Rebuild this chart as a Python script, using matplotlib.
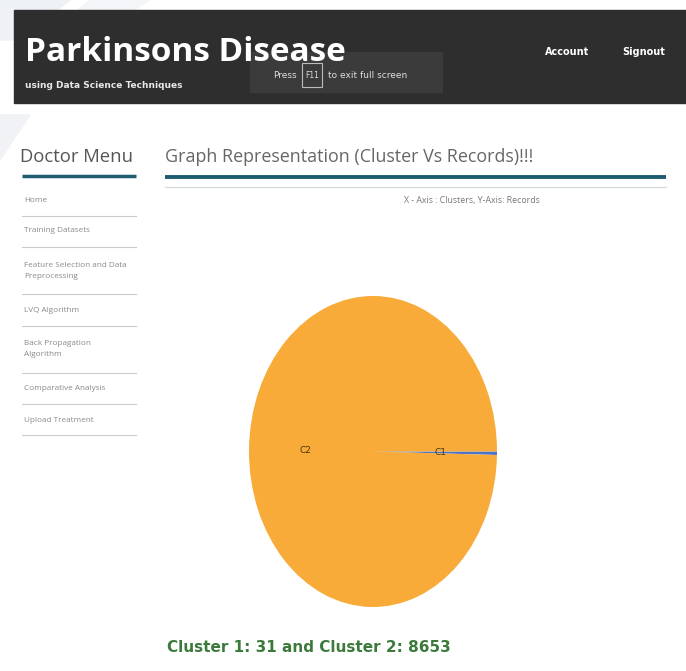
import matplotlib
matplotlib.use('Agg')
import matplotlib.pyplot as plt
from matplotlib.patches import Rectangle, Polygon


# page texts
site_title = 'Parkinsons Disease'
site_subtitle = 'using Data Science Techniques'
nav_links = ['Account', 'Signout']
menu_title = 'Doctor Menu'
menu_items = ['Home', 'Training Datasets', 'Feature Selection and Data\nPreprocessing',
              'LVQ Algorithm', 'Back Propagation\nAlgorithm', 'Comparative Analysis',
              'Upload Treatment']
graph_title = 'Graph Representation (Cluster Vs Records)!!!'
axis_note = 'X - Axis : Clusters, Y-Axis: Records'

# pie data
clusters = ['C1', 'C2']
records = [31, 8653]
slice_colors = ['#4a74c9', '#f8ab38']

W, H = 686, 671
fig = plt.figure(figsize=(W / 100, H / 100), dpi=100)
page = fig.add_axes([0, 0, 1, 1])
page.set_xlim(0, W)
page.set_ylim(H, 0)
page.axis('off')

""" faint background stripes """
page.add_patch(Polygon([[0, 0], [70, 0], [20, 40], [0, 40]], color='#eef1f5', zorder=0))
page.add_patch(Polygon([[90, 0], [150, 0], [110, 25], [60, 25]], color='#f3f5f8', zorder=0))
page.add_patch(Polygon([[0, 115], [30, 115], [0, 160]], color='#f0f2f5', zorder=0))

""" header bar """
page.add_patch(Rectangle((14, 10), W - 14, 93, color='#2e2e2e', zorder=1))
page.add_patch(Rectangle((250, 52), 192, 40, color='#3b3b3b', zorder=2))
page.text(25, 61, site_title, color='white', fontsize=24, fontweight='bold',
          family='Open Sans', va='baseline', zorder=3)
page.text(25, 86, site_subtitle, color='#e8e8e8', fontsize=6.5, fontweight='bold',
          family='Liberation Sans Narrow', va='center', zorder=3)
page.text(297, 75, 'Press', color='#dddddd', fontsize=6.5, family='Liberation Sans Narrow',
          va='center', ha='right', zorder=3)
page.add_patch(Rectangle((302, 63), 20, 24, fill=False, edgecolor='#bbbbbb', lw=0.8, zorder=3))
page.text(312, 75, 'F11', color='#dddddd', fontsize=5.5, family='Liberation Sans Narrow',
          va='center', ha='center', zorder=3)
page.text(328, 75, 'to exit full screen', color='#dddddd', fontsize=6.5,
          family='Liberation Sans Narrow', va='center', zorder=3)
for x, link in zip([545, 622], nav_links):
    page.text(x, 52, link, color='white', fontsize=7, fontweight='bold',
              family='Liberation Sans Narrow', va='center', zorder=3)

""" sidebar menu """
page.text(20, 157, menu_title, color='#555555', fontsize=13.3, family='Open Sans', va='center')
page.plot([22, 136], [176, 176], color='#1e5d70', lw=2.5, solid_capstyle='butt')
item_y = [200, 231, 271, 310, 349, 388, 420]
sep_y = [216, 247, 294, 326, 373, 404, 435]
for y, item, sy in zip(item_y, menu_items, sep_y):
    page.text(24, y, item, color='#8a8a8a', fontsize=5.9, family='Open Sans', va='center',
              linespacing=1.9)
    page.plot([22, 136], [sy, sy], color='#cccccc', lw=0.8)

""" main heading """
page.text(165, 157, graph_title, color='#666666', fontsize=12.9, family='Open Sans',
          va='center')
page.plot([165, 666], [177, 177], color='#1e5d70', lw=2.8, solid_capstyle='butt')
page.plot([165, 666], [187, 187], color='#cfd8d8', lw=0.8)
page.text(472, 200, axis_note, color='#777777', fontsize=6.3, family='Open Sans',
          va='center', ha='center')

""" result line """
page.text(167, 648, f'Cluster 1: {records[0]} and Cluster 2: {records[1]}', color='#3c7a3c',
          fontsize=11, fontweight='bold', family='Liberation Sans Narrow', va='center')

""" pie chart (stretched vertically like the screenshot) """
pie_ax = fig.add_axes([249 / W, (H - 607) / H, 248 / W, 311 / H])
pie_ax.pie(records, labels=clusters, colors=slice_colors, startangle=0, counterclock=False,
           labeldistance=0.5, textprops={'fontsize': 6.5, 'color': '#4a3508'},
           wedgeprops={'linewidth': 0})
pie_ax.set_aspect('auto')
pie_ax.set_xlim(-1, 1)
pie_ax.set_ylim(-1, 1)

fig.savefig('out.png', dpi=100)
